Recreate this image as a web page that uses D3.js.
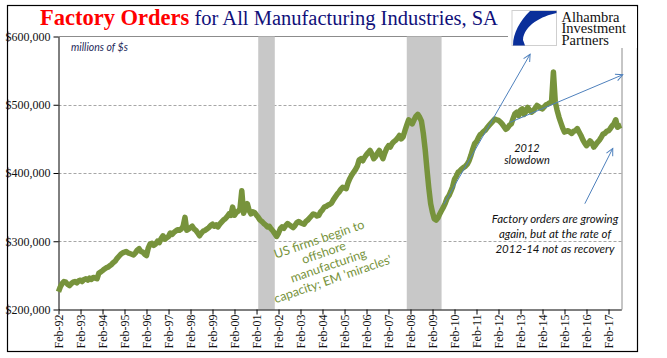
<!DOCTYPE html>
<html>
<head>
<meta charset="utf-8">
<script src="https://cdn.jsdelivr.net/npm/d3@7"></script>
<style>
  body { margin: 0; background: #fff; }
  svg { display: block; }
</style>
</head>
<body>
<svg width="667" height="358"></svg>
<script>
// monthly factory orders, $ thousands of millions, first value = Feb 1992
const firstMonth = new Date(1992, 1, 1);
const orders = [
  226, 233, 238, 241, 240, 237, 235, 238, 240, 241, 239, 242,   // Feb92-Jan93
  243, 241, 244, 245, 243, 246, 244, 247, 246, 245, 253, 255,   // 93
  257, 259, 261, 262, 264, 266, 269, 271, 275, 278, 281, 283,   // 94
  284, 285, 283, 282, 281, 280, 283, 287, 289, 285, 284, 281,   // 95
  279, 290, 296, 297, 294, 296, 300, 298, 304, 308, 303, 305,   // 96
  307, 312, 310, 313, 315, 317, 316, 318, 322, 335, 316, 318,   // 97
  320, 322, 318, 316, 312, 308, 312, 315, 316, 318, 320, 323,   // 98
  325, 322, 324, 321, 325, 328, 331, 333, 336, 340, 338, 350,   // 99
  338, 342, 344, 347, 374, 341, 348, 355, 345, 340, 343, 342,   // 00
  338, 335, 331, 329, 326, 324, 321, 322, 318, 315, 311, 307,   // 01
  312, 318, 321, 319, 323, 326, 324, 322, 320, 323, 327, 329,   // 02
  327, 326, 325, 329, 331, 334, 337, 340, 339, 337, 338, 343,   // 03
  346, 350, 351, 353, 354, 356, 361, 365, 369, 372, 376, 379,   // 04
  378, 377, 386, 392, 397, 401, 405, 410, 419, 421, 418, 423,   // 05
  427, 430, 433, 428, 421, 424, 429, 433, 427, 421, 429, 436,   // 06
  440, 438, 443, 446, 448, 451, 455, 450, 453, 462, 470, 478,   // 07
  475, 472, 478, 483, 486, 482, 476, 458, 435, 405, 378, 355,   // 08
  342, 333, 331, 334, 340, 345, 350, 356, 363, 367, 373, 380,   // 09
  391, 395, 401, 403, 406, 408, 410, 413, 418, 426, 435, 443,   // 10
  446, 451, 456, 458, 461, 463, 467, 470, 473, 476, 479, 478,   // 11
  477, 475, 472, 468, 464, 466, 470, 472, 480, 487, 489, 484,   // 12
  492, 494, 486, 490, 496, 492, 489, 491, 495, 499, 497, 495,   // 13
  494, 497, 500, 501, 503, 504, 548, 504, 492, 482, 474, 466,   // 14
  460, 461, 462, 460, 458, 461, 462, 465, 460, 455, 449, 444,   // 15
  440, 443, 447, 444, 438, 441, 445, 448, 452, 457, 458, 461,   // 16
  462, 465, 469, 472, 478, 467, 469, 470                        // Feb17-Sep17
];
const recessions = [["2001-03-01", "2001-12-01"], ["2007-12-01", "2009-07-01"]];
const yTicks = [200000, 300000, 400000, 500000, 600000];
const gridValues = [300000, 400000, 500000];
const tickYears = d3.range(1992, 2018);
const offshoreLines = ["US firms begin to", "offshore", "manufacturing", "capacity; EM 'miracles'"];
const slowdownLines = ["2012", "slowdown"];
const growingLines = ["Factory orders are growing", "again, but at the rate of", "2012-14 not as recovery"];
// arrows: [start date, start value, end date, end value]
const arrows = [
  ["2009-08-06", 354000, "2013-07-10", 574000],
  ["2012-08-06", 474000, "2017-09-25", 544000],
  ["2016-01-04", 355000, "2017-04-12", 436000]
];

const parse = d3.timeParse("%Y-%m-%d");
const data = orders.map((v, i) => ({date: d3.timeMonth.offset(firstMonth, i), value: v * 1000}));

const plot = {left: 58.5, right: 622, top: 36.5, bottom: 309.5};

const x = d3.scaleTime()
    .domain([firstMonth, data[data.length - 1].date])
    .range([plot.left, 621.3]);
const y = d3.scaleLinear()
    .domain([200000, 600000])
    .range([plot.bottom, plot.top]);

const svg = d3.select("svg");

// outer frame
svg.append("rect")
    .attr("x", 7.5).attr("y", 5.5)
    .attr("width", 630).attr("height", 346)
    .attr("fill", "none")
    .attr("stroke", "#000")
    .attr("stroke-width", 1.2);

// gridlines
svg.append("g").selectAll("line")
    .data(gridValues)
    .join("line")
    .attr("x1", plot.left).attr("x2", plot.right)
    .attr("y1", d => Math.round(y(d)) + 0.5).attr("y2", d => Math.round(y(d)) + 0.5)
    .attr("stroke", "#a6a6a6")
    .attr("stroke-dasharray", "3,2");

// plot border (top & right)
svg.append("path")
    .attr("d", `M${plot.left},${plot.top}H${plot.right}V${plot.bottom}`)
    .attr("fill", "none")
    .attr("stroke", "#8c8c8c");

// recession shading
svg.append("g").selectAll("rect")
    .data(recessions)
    .join("rect")
    .attr("x", d => x(parse(d[0])))
    .attr("width", d => x(parse(d[1])) - x(parse(d[0])))
    .attr("y", plot.top)
    .attr("height", plot.bottom - plot.top)
    .attr("fill", "#c8c8c8");

// axes
const xAxis = svg.append("g")
    .attr("transform", `translate(0,${plot.bottom})`)
    .call(d3.axisBottom(x)
        .tickValues(tickYears.map(yr => new Date(yr, 1, 1)))
        .tickFormat(d3.timeFormat("%b-%y"))
        .tickSize(5)
        .tickSizeOuter(0));
xAxis.selectAll("text")
    .attr("transform", "rotate(-90)")
    .attr("text-anchor", "end")
    .attr("x", -5)
    .attr("y", 0)
    .attr("dy", "0.35em");

const yAxis = svg.append("g")
    .attr("transform", `translate(${plot.left},0)`)
    .call(d3.axisLeft(y)
        .tickValues(yTicks)
        .tickFormat(d => "$" + d3.format(",")(d))
        .tickSize(5)
        .tickSizeOuter(0));

svg.selectAll(".tick text")
    .attr("font-family", "Liberation Serif, serif")
    .attr("font-size", 12)
    .attr("fill", "#111");
svg.selectAll(".domain, .tick line").attr("stroke", "#000");

// the series
const line = d3.line()
    .x(d => x(d.date))
    .y(d => y(d.value));

svg.append("path")
    .datum(data)
    .attr("d", line)
    .attr("fill", "none")
    .attr("stroke", "#77933c")
    .attr("stroke-width", 5.5)
    .attr("stroke-linejoin", "round");

// arrows
svg.append("defs").append("marker")
    .attr("id", "head")
    .attr("viewBox", "-8 -5 10 10")
    .attr("refX", 0).attr("refY", 0)
    .attr("markerWidth", 10).attr("markerHeight", 10)
    .attr("markerUnits", "userSpaceOnUse")
    .attr("orient", "auto")
    .append("path")
    .attr("d", "M-7,-3.5L0,0L-7,3.5")
    .attr("fill", "none")
    .attr("stroke", "#4f81bd")
    .attr("stroke-width", 1);

svg.append("g").selectAll("line")
    .data(arrows)
    .join("line")
    .attr("x1", d => x(parse(d[0]))).attr("y1", d => y(d[1]))
    .attr("x2", d => x(parse(d[2]))).attr("y2", d => y(d[3]))
    .attr("stroke", "#4f81bd")
    .attr("stroke-width", 1)
    .attr("marker-end", "url(#head)");

// annotations
svg.append("text")
    .attr("x", 71).attr("y", 50.5)
    .attr("font-family", "Lato, sans-serif")
    .attr("font-style", "italic")
    .attr("font-size", 10.5)
    .attr("fill", "#1f2a5a")
    .text("millions of $s");

svg.append("g")
    .attr("transform", "translate(326,259) rotate(-19)")
    .selectAll("text")
    .data(offshoreLines)
    .join("text")
    .attr("x", 0)
    .attr("y", (d, i) => (i - 1.5) * 14)
    .attr("dy", "0.35em")
    .attr("text-anchor", "middle")
    .attr("font-family", "Lato, sans-serif")
    .attr("font-size", 12.5)
    .attr("fill", "#77933c")
    .text(d => d);

svg.append("g").selectAll("text")
    .data(slowdownLines)
    .join("text")
    .attr("x", 527)
    .attr("y", (d, i) => 151.5 + i * 12.5)
    .attr("text-anchor", "middle")
    .attr("font-family", "Lato, sans-serif")
    .attr("font-style", "italic")
    .attr("font-size", 11)
    .attr("fill", "#111")
    .text(d => d);

svg.append("g").selectAll("text")
    .data(growingLines)
    .join("text")
    .attr("x", 555)
    .attr("y", (d, i) => 223 + i * 14.8)
    .attr("text-anchor", "middle")
    .attr("font-family", "Lato, sans-serif")
    .attr("font-style", "italic")
    .attr("font-size", 11.5)
    .attr("fill", "#111")
    .text(d => d);

// title
const title = svg.append("text")
    .attr("x", 40).attr("y", 25)
    .attr("font-family", "Liberation Serif, serif");
title.append("tspan")
    .attr("font-weight", "bold")
    .attr("font-size", 22.5)
    .attr("fill", "#ff0000")
    .text("Factory Orders");
title.append("tspan")
    .attr("font-size", 20.5)
    .attr("fill", "#10107a")
    .text(" for All Manufacturing Industries, SA");

// logo
const logo = svg.append("g");
logo.append("rect")
    .attr("x", 508).attr("y", 7)
    .attr("width", 129).attr("height", 41)
    .attr("fill", "#fff");
logo.append("rect")
    .attr("x", 512).attr("y", 10.5)
    .attr("width", 44.5).attr("height", 35)
    .attr("fill", "#fff")
    .attr("stroke", "#cfcfcf");
logo.append("path")
    .attr("transform", "translate(512,11)")
    .attr("d", "M18,0L44.5,0L44.5,2C30,5 12,14 11,29L13,34.5L1,34.5C1,22 8,10 18,0Z")
    .attr("fill", "#0a2f9a");
logo.selectAll("text.logo")
    .data(["Alhambra", "Investment", "Partners"])
    .join("text")
    .attr("class", "logo")
    .attr("x", 561.5)
    .attr("y", (d, i) => 21.5 + i * 11.8)
    .attr("font-family", "Liberation Serif, serif")
    .attr("font-size", 14.5)
    .attr("fill", "#111")
    .text(d => d);
</script>
</body>
</html>
